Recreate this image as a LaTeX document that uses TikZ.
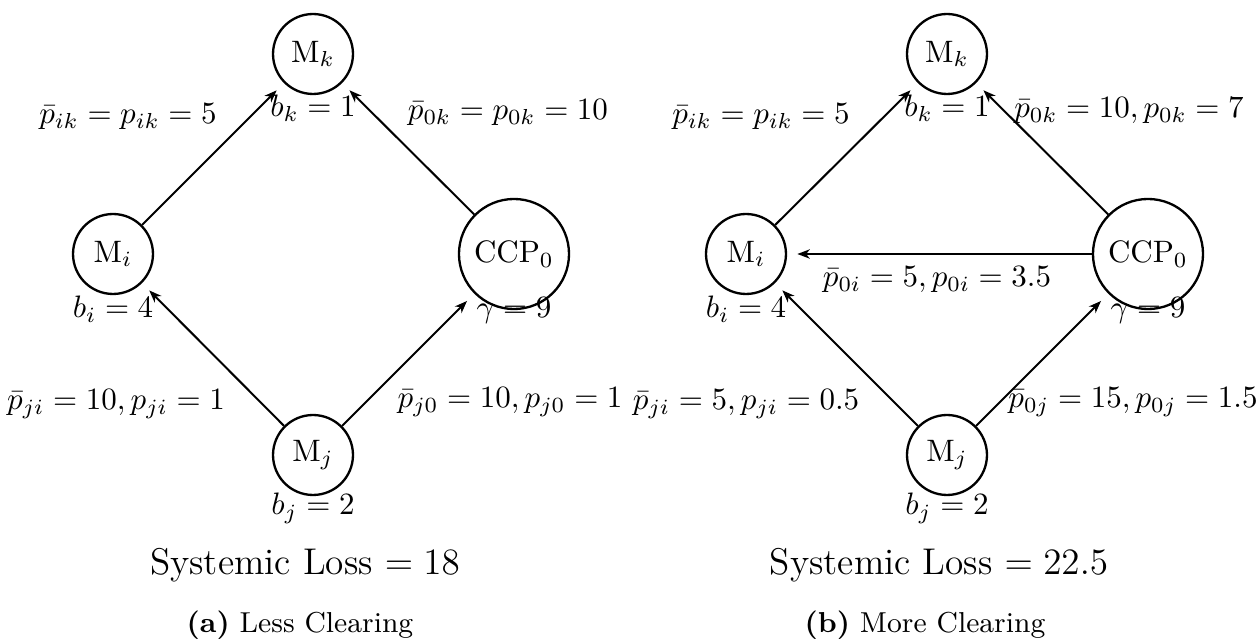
\documentclass[tikz,border=0pt]{standalone}
\usetikzlibrary{arrows.meta}
\begin{document}
\begin{tikzpicture}[x=0.3226pt,y=-0.3226pt,
  mnode/.style={circle,draw,line width=0.75pt,inner sep=0pt,minimum size=25.8pt},
  cnode/.style={circle,draw,line width=0.75pt,inner sep=0pt,minimum size=35.5pt},
  arr/.style={line width=0.65pt,-{Stealth[length=4pt,width=3pt,inset=1.2pt]},shorten >=3.3pt},
  lab/.style={anchor=base,inner sep=0pt},
  loss/.style={anchor=base,inner sep=0pt,font=\fontsize{12}{14}\selectfont},
  capt/.style={anchor=base,inner sep=0pt,font=\fontsize{9.3}{11}\selectfont}]
\useasboundingbox (0,0) rectangle (1259,639);
% ---------- (a) ----------
\node[mnode] (aMk) at (313,54) {M$_k$};
\node[mnode] (aMi) at (113,254) {M$_i$};
\node[cnode] (aC) at (514,254) {CCP$_0$};
\node[mnode] (aMj) at (313,455) {M$_j$};
\draw[arr] (aMi) -- (aMk);
\draw[arr] (aC) -- (aMk);
\draw[arr] (aMj) -- (aMi);
\draw[arr] (aMj) -- (aC);
\node[lab] (aik) at (128,124) {$\bar{p}_{ik} = p_{ik} = 5$};
\node[lab] (abk) at (313,117) {$b_k = 1$};
\node[lab] (a0k) at (508,120) {$\bar{p}_{0k} = p_{0k} = 10$};
\node[lab] (abi) at (113,318) {$b_i = 4$};
\node[lab] (ag) at (514,318) {$\gamma = 9$};
\node[lab] (aji) at (116,410) {$\bar{p}_{ji} = 10, p_{ji} = 1$};
\node[lab] (aj0) at (510,408) {$\bar{p}_{j0} = 10, p_{j0} = 1$};
\node[lab] (abj) at (313,515) {$b_j = 2$};
\node[loss] (aloss) at (305,575) {Systemic Loss $= 18$};
\node[capt] (acap) at (300,633) {\textbf{(a)} Less Clearing};
% ---------- (b) ----------
\node[mnode] (bMk) at (947,54) {M$_k$};
\node[mnode] (bMi) at (746,254) {M$_i$};
\node[cnode] (bC) at (1148,254) {CCP$_0$};
\node[mnode] (bMj) at (947,455) {M$_j$};
\draw[arr] (bMi) -- (bMk);
\draw[arr] (bC) -- (bMk);
\draw[arr] (bC) -- (bMi);
\draw[arr] (bMj) -- (bMi);
\draw[arr] (bMj) -- (bC);
\node[lab] (bik) at (761,124) {$\bar{p}_{ik} = p_{ik} = 5$};
\node[lab] (bbk) at (947,117) {$b_k = 1$};
\node[lab] (b0k) at (1129,118) {$\bar{p}_{0k} = 10, p_{0k} = 7$};
\node[lab] (bbi) at (746,318) {$b_i = 4$};
\node[lab] (bg) at (1148,318) {$\gamma = 9$};
\node[lab] (b0i) at (937,287) {$\bar{p}_{0i} = 5, p_{0i} = 3.5$};
\node[lab] (bji) at (746,410) {$\bar{p}_{ji} = 5, p_{ji} = 0.5$};
\node[lab] (b0j) at (1133,408) {$\bar{p}_{0j} = 15, p_{0j} = 1.5$};
\node[lab] (bbj) at (947,515) {$b_j = 2$};
\node[loss] (bloss) at (939,575) {Systemic Loss $= 22.5$};
\node[capt] (bcap) at (925,633) {\textbf{(b)} More Clearing};
\end{tikzpicture}
\end{document}
